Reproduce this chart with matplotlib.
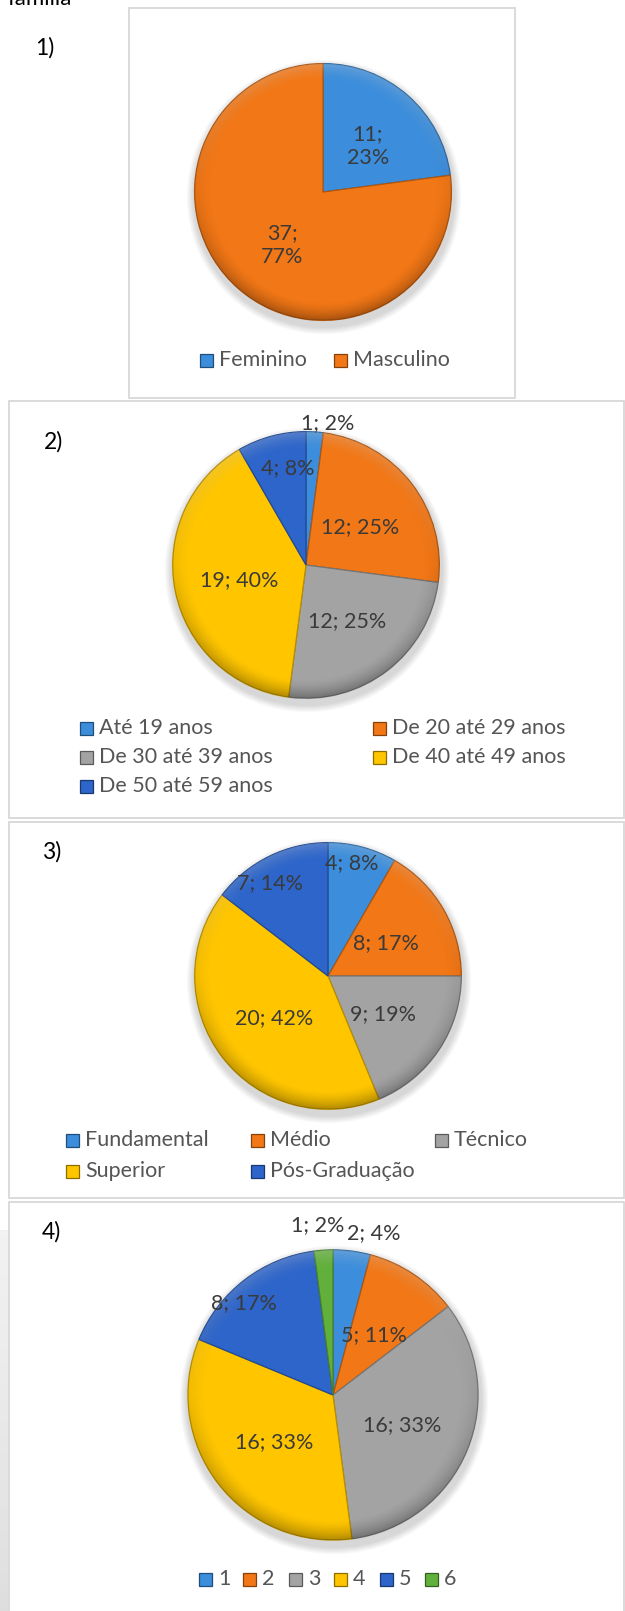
import numpy as np
import matplotlib
matplotlib.use("Agg")
import matplotlib.pyplot as plt
from matplotlib.patches import Rectangle, Circle
from matplotlib.colors import to_rgb

plt.rcParams['font.family'] = ['Lato', 'DejaVu Sans']

# ---------------- data ----------------
sexo_labels = ["Feminino", "Masculino"]
sexo_values = [11, 37]
sexo_pct = [23, 77]

idade_labels = ["Até 19 anos", "De 20 até 29 anos", "De 30 até 39 anos",
                "De 40 até 49 anos", "De 50 até 59 anos"]
idade_values = [1, 12, 12, 19, 4]
idade_pct = [2, 25, 25, 40, 8]

escol_labels = ["Fundamental", "Médio", "Técnico", "Superior", "Pós-Graduação"]
escol_values = [4, 8, 9, 20, 7]
escol_pct = [8, 17, 19, 42, 14]

fam_labels = ["1", "2", "3", "4", "5", "6"]
fam_values = [2, 5, 16, 16, 8, 1]
fam_pct = [4, 11, 33, 33, 17, 2]

# ---------------- style ----------------
C_LBLUE = "#3C8EDC"
C_ORANGE = "#F27716"
C_GRAY = "#A3A3A3"
C_YELLOW = "#FFC600"
C_DBLUE = "#2D65CA"
C_GREEN = "#62B03C"
palette = [C_LBLUE, C_ORANGE, C_GRAY, C_YELLOW, C_DBLUE, C_GREEN]

W, H = 625, 1611
fig = plt.figure(figsize=(W / 100, H / 100), dpi=100)
bg = fig.add_axes([0, 0, 1, 1])
bg.set_xlim(0, W)
bg.set_ylim(H, 0)
bg.axis("off")

LBL_COLOR = "#3A3A3A"
LEG_COLOR = "#555555"
FS = 15.5


def darker(c, f=0.7):
    r, g, b = to_rgb(c)
    return (r * f, g * f, b * f)


def ftext(x, y, s, **kw):
    return fig.text(x / W, 1 - y / H, s, **kw)


# faint page shadow strip on the left edge
grad = np.linspace(0, 1, 200).reshape(-1, 1)
bg.imshow(grad, extent=[0, 8, H, 1230], cmap="Greys", vmin=-1, vmax=4,
          aspect="auto", zorder=0, alpha=0.45)

# panel borders
BORDER = "#D8D8D8"
bg.add_patch(Rectangle((129, 8), 386, 390, fill=False, ec=BORDER, lw=1.3))
bg.add_patch(Rectangle((9, 401), 615, 417, fill=False, ec=BORDER, lw=1.3))
bg.add_patch(Rectangle((9, 822), 615, 376, fill=False, ec=BORDER, lw=1.3))
bg.plot([9, 9, 624, 624], [H + 5, 1202, 1202, H + 5], color=BORDER, lw=1.3)

# headings
ftext(8, 5, "família", fontsize=16, color="black", va="baseline")
for (x, y, s) in [(35, 48, "1)"), (44, 442, "2)"), (42, 852, "3)"), (42, 1232, "4)")]:
    ftext(x, y, s, fontsize=16.5, color="black", va="center")

# bevel overlays (rim shading) used on every pie
_n = 300
_g = np.linspace(-1, 1, _n)
_X, _Y = np.meshgrid(_g, _g[::-1])
_R = np.hypot(_X, _Y)
_rim = np.clip((_R - 0.86) / 0.14, 0, 1) ** 1.5
_dark = np.zeros((_n, _n, 4))
_dark[..., 3] = _rim * (0.06 + 0.24 * np.clip(-_Y, 0, 1))
_light = np.ones((_n, _n, 4))
_light[..., 3] = _rim * 0.22 * np.clip(_Y, 0, 1)


def draw_pie(values, colors, cx, cy, r):
    # soft shadow
    for k in range(8):
        bg.add_patch(Circle((cx + 1, cy + 5), r + k * 0.9, color="black",
                            alpha=0.02, lw=0, zorder=1))
    ax = fig.add_axes([(cx - r) / W, 1 - (cy + r) / H, 2 * r / W, 2 * r / H])
    wedges, _ = ax.pie(values, colors=colors, startangle=90, counterclock=False,
                       radius=1.0, wedgeprops=dict(linewidth=0.9))
    for w, c in zip(wedges, colors):
        w.set_edgecolor(darker(c, 0.72))
    for img in (_dark, _light):
        im = ax.imshow(img, extent=[-1, 1, -1, 1], zorder=5, interpolation="bilinear")
        im.set_clip_path(Circle((0, 0), 1.0, transform=ax.transData))
    ax.set_xlim(-1.02, 1.02)
    ax.set_ylim(-1.02, 1.02)
    ax.set_aspect("equal")
    ax.axis("off")
    return ax


def draw_labels(values, pct, positions, two_line=False):
    for v, p, (x, y) in zip(values, pct, positions):
        s = f"{v};\n{p}%" if two_line else f"{v}; {p}%"
        ftext(x, y, s, fontsize=FS, color=LBL_COLOR, ha="center", va="center",
              linespacing=1.3)


def draw_legend(labels, colors, positions):
    for lab, c, (x, y) in zip(labels, colors, positions):
        bg.add_patch(Rectangle((x, y - 6.5), 13, 13, fc=c, ec=darker(c, 0.55),
                               lw=0.9, zorder=3))
        ftext(x + 19, y, lab, fontsize=FS, color=LEG_COLOR, ha="left",
              va="center")


# ---- Pie 1 ----
draw_pie(sexo_values, [C_LBLUE, C_ORANGE], 323, 192, 131)
draw_labels(sexo_values, sexo_pct, [(368, 146), (282, 245)], two_line=True)
draw_legend(sexo_labels, [C_LBLUE, C_ORANGE], [(200, 360), (334, 360)])

# ---- Pie 2 ----
draw_pie(idade_values, palette[:5], 306, 565, 136)
draw_labels(idade_values, idade_pct,
            [(328, 423), (360, 527), (347, 621), (239, 580), (288, 468)])
draw_legend(idade_labels, palette[:5],
            [(80, 728), (373, 728), (80, 757), (373, 757), (80, 786)])

# ---- Pie 3 ----
draw_pie(escol_values, palette[:5], 328, 976, 136)
draw_labels(escol_values, escol_pct,
            [(352, 863), (386, 943), (383, 1014), (274, 1018), (270, 883)])
draw_legend(escol_labels, palette[:5],
            [(66, 1140), (251, 1140), (435, 1140), (66, 1171), (251, 1171)])

# ---- Pie 4 ----
draw_pie(fam_values, palette, 333, 1395, 148)
draw_labels(fam_values, fam_pct,
            [(374, 1233), (374, 1335), (402, 1425), (274, 1442), (244, 1303), (318, 1225)])
draw_legend(fam_labels, palette,
            [(199, 1579), (243, 1579), (289, 1579), (334, 1579), (380, 1579), (425, 1579)])

fig.savefig("out.png", dpi=100)
